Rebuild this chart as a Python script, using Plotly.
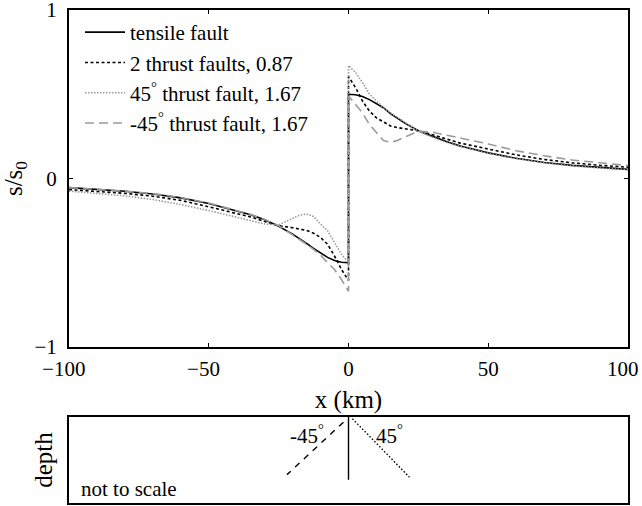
import plotly.graph_objects as go

# ---- data ----
x_vals = [-100, -90, -80, -70, -60, -50, -40, -35, -30, -25, -20, -17.5, -15, -12.5,
          -10, -7.5, -5, -2.5, 0, 0, 2.5, 5, 7.5, 10, 12.5, 15, 17.5, 20, 25, 30,
          35, 40, 50, 60, 70, 80, 90, 100]

tensile = [-0.054, -0.064, -0.076, -0.092, -0.115, -0.148, -0.19, -0.215, -0.245, -0.283,
           -0.33, -0.356, -0.385, -0.415, -0.443, -0.468, -0.487, -0.497, -0.5,
           0.5, 0.497, 0.487, 0.468, 0.443, 0.42, 0.385, 0.356, 0.33, 0.283, 0.25,
           0.22, 0.193, 0.152, 0.12, 0.095, 0.078, 0.064, 0.054]

thrust_two = [-0.066, -0.076, -0.088, -0.105, -0.13, -0.168, -0.205, -0.228, -0.255, -0.28,
              -0.292, -0.298, -0.308, -0.325, -0.35, -0.39, -0.46, -0.54, -0.605,
              0.605, 0.54, 0.46, 0.40, 0.36, 0.335, 0.312, 0.302, 0.295, 0.283, 0.26,
              0.235, 0.21, 0.175, 0.14, 0.113, 0.093, 0.078, 0.067]

thrust_p45 = [-0.075, -0.088, -0.103, -0.125, -0.155, -0.19, -0.228, -0.25, -0.27, -0.275,
              -0.24, -0.218, -0.21, -0.225, -0.27, -0.31, -0.38, -0.45, -0.5,
              0.67, 0.63, 0.57, 0.5, 0.46, 0.42, 0.39, 0.36, 0.335, 0.28, 0.245,
              0.215, 0.19, 0.15, 0.118, 0.093, 0.075, 0.062, 0.052]

thrust_m45 = [-0.054, -0.063, -0.075, -0.09, -0.113, -0.146, -0.188, -0.213, -0.243, -0.28,
              -0.335, -0.36, -0.39, -0.42, -0.455, -0.5, -0.54, -0.6, -0.67,
              0.49, 0.44, 0.39, 0.32, 0.27, 0.225, 0.215, 0.225, 0.245, 0.28, 0.275,
              0.258, 0.24, 0.205, 0.165, 0.135, 0.11, 0.092, 0.077]

series_names = ["tensile fault", "2 thrust faults, 0.87",
                "45<sup>°</sup> thrust fault, 1.67", "-45<sup>°</sup> thrust fault, 1.67"]

x_ticks = [-100, -50, 0, 50, 100]
# minus sign hangs to the left of the centred digits, as in the reference
x_tick_text = ["\u2212100\u2007", "\u221250\u2007", "0", "50", "100\u2007"]
y_ticks = [-1, 0, 1]

# fault sketch (lower panel, "not to scale")
fault_vert_x = [0, 0]
fault_vert_y = [0, -0.73]
fault_m45_x = [-1.8, -22]
fault_m45_y = [-0.06, -0.67]
fault_p45_x = [1.4, 21.8]
fault_p45_y = [-0.02, -0.70]

FONT = "Liberation Serif"
GRAY = "#9a9a9a"

fig = go.Figure()
styles = [
    dict(color="black", width=1.6, dash="solid"),
    dict(color="black", width=1.6, dash="3px,2.5px"),
    dict(color=GRAY, width=1.6, dash="1.5px,1.5px"),
    dict(color=GRAY, width=1.6, dash="9px,5px"),
]
for yv, nm, st in zip([tensile, thrust_two, thrust_p45, thrust_m45], series_names, styles):
    fig.add_trace(go.Scatter(x=x_vals, y=yv, mode="lines", name=nm, line=st,
                             xaxis="x", yaxis="y"))

fig.add_trace(go.Scatter(x=fault_vert_x, y=fault_vert_y, mode="lines", showlegend=False,
                         line=dict(color="black", width=1.4), xaxis="x2", yaxis="y2"))
fig.add_trace(go.Scatter(x=fault_m45_x, y=fault_m45_y, mode="lines", showlegend=False,
                         line=dict(color="black", width=1.4, dash="6px,6px"),
                         xaxis="x2", yaxis="y2"))
fig.add_trace(go.Scatter(x=fault_p45_x, y=fault_p45_y, mode="lines", showlegend=False,
                         line=dict(color="black", width=1.4, dash="1.5px,2px"),
                         xaxis="x2", yaxis="y2"))

W, H = 642, 506


def px(v):
    return v / W


def py(v):
    return 1 - v / H


xd = [px(69), px(628)]
fig.update_layout(
    width=W, height=H,
    margin=dict(l=0, r=0, t=0, b=0, autoexpand=False),
    paper_bgcolor="white", plot_bgcolor="white",
    font=dict(family=FONT, size=21, color="black"),
    showlegend=True,
    legend=dict(x=px(80), y=py(12), xanchor="left", yanchor="top",
                bgcolor="rgba(0,0,0,0)", borderwidth=0, tracegroupgap=0,
                itemwidth=40, font=dict(family=FONT, size=21)),
    xaxis=dict(domain=xd, anchor="y", range=[-100, 100], tickvals=x_ticks,
               ticktext=x_tick_text,
               ticks="inside", ticklen=4, tickwidth=1, tickcolor="black",
               mirror="ticks", showline=True, linecolor="black", linewidth=2,
               showgrid=False, zeroline=False, ticklabelstandoff=2,
               automargin=False, ticklabeloverflow="allow",
               title=dict(text="x (km)", standoff=10)),
    yaxis=dict(domain=[py(347), py(10)], anchor="x", range=[-1, 1],
               tickvals=y_ticks, ticks="inside", ticklen=4, tickwidth=1,
               tickcolor="black", mirror="ticks", showline=True, linecolor="black",
               linewidth=2, showgrid=False, zeroline=False, ticklabelstandoff=6,
               automargin=False, ticklabeloverflow="allow",
               title=dict(text="s/s<sub>0</sub>", standoff=11)),
    xaxis2=dict(domain=xd, anchor="y2", range=[-100, 100], showticklabels=False,
                ticks="", showline=True, mirror=True, linecolor="black", linewidth=1.5,
                showgrid=False, zeroline=False, automargin=False),
    yaxis2=dict(domain=[py(503), py(417)], anchor="x2", range=[-1, 0],
                showticklabels=False, ticks="", showline=True, mirror=True,
                linecolor="black", linewidth=1.5, showgrid=False, zeroline=False,
                automargin=False, title=dict(text="depth", standoff=8)),
    annotations=[
        dict(x=-15, y=-0.2, xref="x2", yref="y2", text="-45<sup>°</sup>",
             showarrow=False, xanchor="center", yanchor="middle",
             font=dict(family=FONT, size=21)),
        dict(x=14.6, y=-0.2, xref="x2", yref="y2", text="45<sup>°</sup>",
             showarrow=False, xanchor="center", yanchor="middle",
             font=dict(family=FONT, size=21)),
        dict(x=-96.4, y=-0.84, xref="x2", yref="y2", text="not to scale",
             showarrow=False, xanchor="left", yanchor="middle",
             font=dict(family=FONT, size=21)),
    ],
)

# remove the default 8px page margin so the figure fills the window exactly
fig.write_html("out.html",
               config={"displayModeBar": False},
               post_script="document.body.style.margin='0px';document.body.style.overflow='hidden';")
